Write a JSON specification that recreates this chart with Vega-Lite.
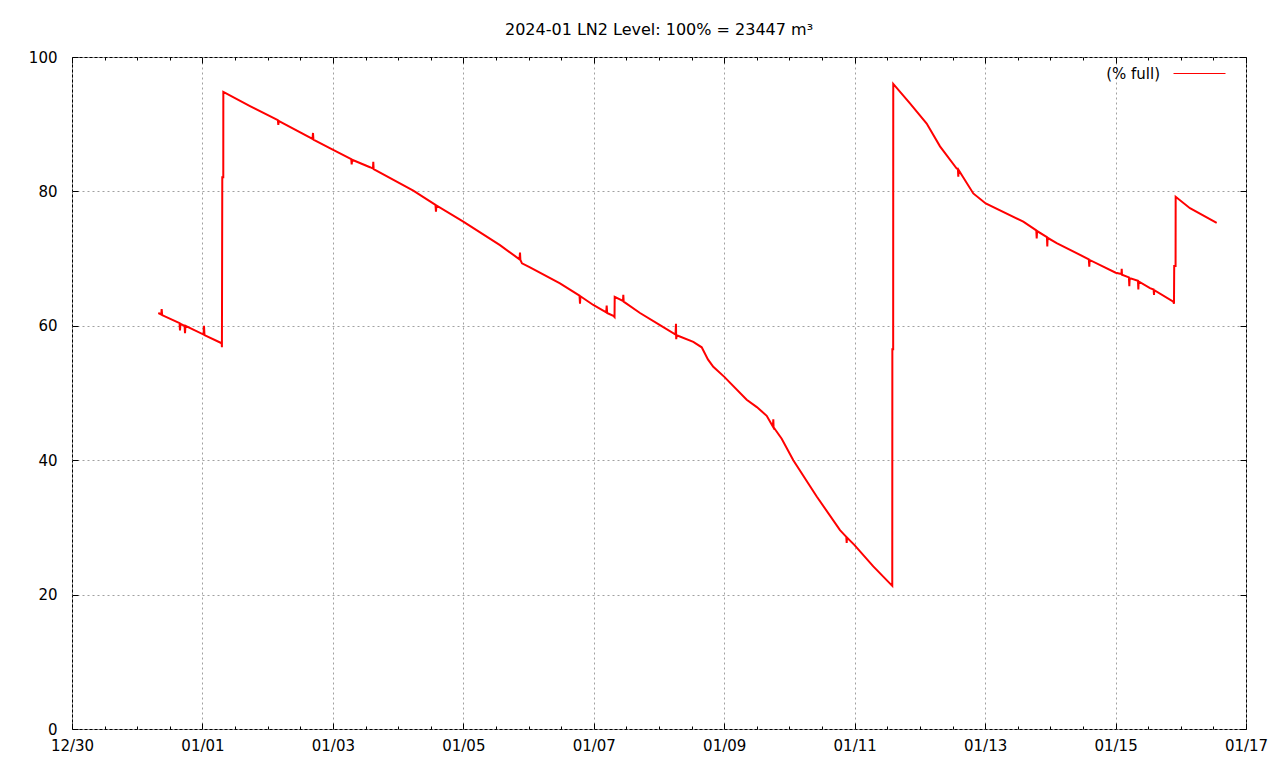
{
  "$schema": "https://vega.github.io/schema/vega-lite/v6.json",
  "width": 1174,
  "height": 672,
  "autosize": {"type": "none"},
  "padding": {"left": 72, "top": 57, "right": 34, "bottom": 39},
  "background": "white",
  "title": {"text": "2024-01 LN2 Level: 100% = 23447 m³", "font": "DejaVu Sans", "fontSize": 16, "fontWeight": "normal", "color": "black", "anchor": "middle", "baseline": "alphabetic", "offset": 3, "dy": 7},
  "config": {"view": {"stroke": "black", "strokeWidth": 1}, "font": "DejaVu Sans"},
  "data": {"values": [
    {"t": "2023-12-31T07:45:00Z", "v": 61.9},
    {"t": "2023-12-31T08:50:00Z", "v": 61.7},
    {"t": "2023-12-31T09:00:00Z", "v": 62.5},
    {"t": "2023-12-31T09:10:00Z", "v": 61.6},
    {"t": "2023-12-31T15:35:00Z", "v": 60.4},
    {"t": "2023-12-31T15:44:00Z", "v": 59.3},
    {"t": "2023-12-31T15:55:00Z", "v": 60.3},
    {"t": "2023-12-31T17:25:00Z", "v": 60.0},
    {"t": "2023-12-31T17:35:00Z", "v": 58.9},
    {"t": "2023-12-31T17:45:00Z", "v": 60.0},
    {"t": "2024-01-01T00:25:00Z", "v": 58.7},
    {"t": "2024-01-01T00:34:00Z", "v": 60.0},
    {"t": "2024-01-01T00:45:00Z", "v": 58.6},
    {"t": "2024-01-01T07:05:00Z", "v": 57.4},
    {"t": "2024-01-01T07:10:00Z", "v": 56.8},
    {"t": "2024-01-01T07:18:00Z", "v": 82.1},
    {"t": "2024-01-01T07:40:00Z", "v": 82.1},
    {"t": "2024-01-01T07:41:00Z", "v": 94.8},
    {"t": "2024-01-01T17:30:00Z", "v": 92.7},
    {"t": "2024-01-02T03:45:00Z", "v": 90.6},
    {"t": "2024-01-02T03:55:00Z", "v": 89.9},
    {"t": "2024-01-02T04:05:00Z", "v": 90.5},
    {"t": "2024-01-02T04:32:00Z", "v": 90.4},
    {"t": "2024-01-02T16:30:00Z", "v": 87.8},
    {"t": "2024-01-02T16:41:00Z", "v": 88.7},
    {"t": "2024-01-02T16:50:00Z", "v": 87.7},
    {"t": "2024-01-02T23:56:00Z", "v": 86.2},
    {"t": "2024-01-03T06:45:00Z", "v": 84.8},
    {"t": "2024-01-03T06:55:00Z", "v": 84.0},
    {"t": "2024-01-03T07:05:00Z", "v": 84.7},
    {"t": "2024-01-03T13:39:00Z", "v": 83.6},
    {"t": "2024-01-03T14:45:00Z", "v": 83.4},
    {"t": "2024-01-03T14:52:00Z", "v": 84.4},
    {"t": "2024-01-03T15:00:00Z", "v": 83.3},
    {"t": "2024-01-04T05:35:00Z", "v": 80.1},
    {"t": "2024-01-04T13:45:00Z", "v": 78.0},
    {"t": "2024-01-04T13:56:00Z", "v": 77.0},
    {"t": "2024-01-04T14:05:00Z", "v": 77.9},
    {"t": "2024-01-04T23:59:00Z", "v": 75.5},
    {"t": "2024-01-05T13:29:00Z", "v": 72.0},
    {"t": "2024-01-05T20:40:00Z", "v": 69.9},
    {"t": "2024-01-05T20:51:00Z", "v": 70.9},
    {"t": "2024-01-05T21:00:00Z", "v": 69.8},
    {"t": "2024-01-05T21:35:00Z", "v": 69.3},
    {"t": "2024-01-06T00:32:00Z", "v": 68.7},
    {"t": "2024-01-06T11:34:00Z", "v": 66.3},
    {"t": "2024-01-06T18:45:00Z", "v": 64.5},
    {"t": "2024-01-06T18:56:00Z", "v": 63.3},
    {"t": "2024-01-06T19:05:00Z", "v": 64.4},
    {"t": "2024-01-06T23:49:00Z", "v": 63.1},
    {"t": "2024-01-07T04:35:00Z", "v": 62.0},
    {"t": "2024-01-07T04:45:00Z", "v": 63.0},
    {"t": "2024-01-07T04:55:00Z", "v": 61.9},
    {"t": "2024-01-07T07:11:00Z", "v": 61.5},
    {"t": "2024-01-07T07:38:00Z", "v": 61.3},
    {"t": "2024-01-07T07:42:00Z", "v": 64.3},
    {"t": "2024-01-07T10:45:00Z", "v": 63.7},
    {"t": "2024-01-07T10:52:00Z", "v": 64.6},
    {"t": "2024-01-07T11:00:00Z", "v": 63.6},
    {"t": "2024-01-07T17:01:00Z", "v": 61.9},
    {"t": "2024-01-08T00:22:00Z", "v": 60.1},
    {"t": "2024-01-08T06:05:00Z", "v": 58.7},
    {"t": "2024-01-08T06:15:00Z", "v": 60.3},
    {"t": "2024-01-08T06:20:00Z", "v": 58.0},
    {"t": "2024-01-08T06:31:00Z", "v": 58.6},
    {"t": "2024-01-08T12:37:00Z", "v": 57.6},
    {"t": "2024-01-08T15:43:00Z", "v": 56.8},
    {"t": "2024-01-08T18:00:00Z", "v": 55.0},
    {"t": "2024-01-08T19:59:00Z", "v": 53.9},
    {"t": "2024-01-09T00:02:00Z", "v": 52.4},
    {"t": "2024-01-09T08:16:00Z", "v": 49.0},
    {"t": "2024-01-09T12:00:00Z", "v": 47.9},
    {"t": "2024-01-09T15:38:00Z", "v": 46.6},
    {"t": "2024-01-09T17:28:00Z", "v": 45.3},
    {"t": "2024-01-09T17:55:00Z", "v": 45.0},
    {"t": "2024-01-09T18:04:00Z", "v": 46.1},
    {"t": "2024-01-09T18:10:00Z", "v": 44.9},
    {"t": "2024-01-09T21:09:00Z", "v": 43.2},
    {"t": "2024-01-10T01:25:00Z", "v": 40.0},
    {"t": "2024-01-10T10:02:00Z", "v": 34.6},
    {"t": "2024-01-10T18:36:00Z", "v": 29.6},
    {"t": "2024-01-10T20:55:00Z", "v": 28.6},
    {"t": "2024-01-10T21:04:00Z", "v": 27.7},
    {"t": "2024-01-10T21:10:00Z", "v": 28.5},
    {"t": "2024-01-10T23:52:00Z", "v": 27.4},
    {"t": "2024-01-11T06:51:00Z", "v": 24.2},
    {"t": "2024-01-11T13:50:00Z", "v": 21.3},
    {"t": "2024-01-11T13:52:00Z", "v": 56.5},
    {"t": "2024-01-11T14:10:00Z", "v": 56.5},
    {"t": "2024-01-11T14:12:00Z", "v": 96.0},
    {"t": "2024-01-11T20:21:00Z", "v": 93.1},
    {"t": "2024-01-12T02:30:00Z", "v": 90.1},
    {"t": "2024-01-12T07:24:00Z", "v": 86.7},
    {"t": "2024-01-12T13:32:00Z", "v": 83.4},
    {"t": "2024-01-12T14:00:00Z", "v": 83.3},
    {"t": "2024-01-12T14:08:00Z", "v": 82.2},
    {"t": "2024-01-12T14:15:00Z", "v": 83.2},
    {"t": "2024-01-12T19:39:00Z", "v": 79.7},
    {"t": "2024-01-13T00:13:00Z", "v": 78.2},
    {"t": "2024-01-13T14:03:00Z", "v": 75.5},
    {"t": "2024-01-13T18:50:00Z", "v": 74.2},
    {"t": "2024-01-13T18:59:00Z", "v": 73.0},
    {"t": "2024-01-13T19:08:00Z", "v": 74.1},
    {"t": "2024-01-13T22:45:00Z", "v": 73.2},
    {"t": "2024-01-13T22:53:00Z", "v": 71.8},
    {"t": "2024-01-13T23:00:00Z", "v": 73.1},
    {"t": "2024-01-14T02:20:00Z", "v": 72.3},
    {"t": "2024-01-14T14:10:00Z", "v": 69.9},
    {"t": "2024-01-14T14:20:00Z", "v": 68.8},
    {"t": "2024-01-14T14:28:00Z", "v": 69.8},
    {"t": "2024-01-15T00:03:00Z", "v": 67.9},
    {"t": "2024-01-15T02:10:00Z", "v": 67.7},
    {"t": "2024-01-15T02:16:00Z", "v": 68.5},
    {"t": "2024-01-15T02:22:00Z", "v": 67.6},
    {"t": "2024-01-15T04:55:00Z", "v": 67.2},
    {"t": "2024-01-15T05:04:00Z", "v": 65.9},
    {"t": "2024-01-15T05:12:00Z", "v": 67.1},
    {"t": "2024-01-15T08:15:00Z", "v": 66.7},
    {"t": "2024-01-15T08:23:00Z", "v": 65.4},
    {"t": "2024-01-15T08:30:00Z", "v": 66.6},
    {"t": "2024-01-15T12:40:00Z", "v": 65.6},
    {"t": "2024-01-15T14:00:00Z", "v": 65.4},
    {"t": "2024-01-15T14:09:00Z", "v": 64.6},
    {"t": "2024-01-15T14:15:00Z", "v": 65.3},
    {"t": "2024-01-15T21:15:00Z", "v": 63.6},
    {"t": "2024-01-15T21:30:00Z", "v": 63.3},
    {"t": "2024-01-15T21:35:00Z", "v": 68.9},
    {"t": "2024-01-15T22:05:00Z", "v": 68.9},
    {"t": "2024-01-15T22:07:00Z", "v": 79.2},
    {"t": "2024-01-16T03:23:00Z", "v": 77.5},
    {"t": "2024-01-16T13:13:00Z", "v": 75.3}
  ]},
  "layer": [
    {
      "mark": {"type": "line", "strokeWidth": 2, "interpolate": "linear"},
      "encoding": {
        "x": {
          "field": "t", "type": "temporal",
          "scale": {"type": "utc", "domain": [1703894400000, 1705449600000]},
          "axis": {
            "orient": "bottom", "title": null, "domain": false,
            "values": [1703894400000, 1704067200000, 1704240000000, 1704412800000, 1704585600000, 1704758400000, 1704931200000, 1705104000000, 1705276800000, 1705449600000],
            "labelExpr": "utcFormat(datum.value, '%m/%d')",
            "labelOverlap": false, "labelFlush": false, "labelBound": false,
            "labelFont": "DejaVu Sans", "labelFontSize": 15, "labelColor": "black", "labelPadding": 15,
            "grid": true, "gridColor": "#a0a0a0", "gridDash": [2, 3], "gridWidth": 1,
            "tickColor": "black", "tickWidth": 1, "tickSize": -6
          }
        },
        "y": {
          "field": "v", "type": "quantitative",
          "scale": {"domain": [0, 100], "nice": false},
          "axis": {
            "orient": "left", "title": null, "domain": false,
            "values": [0, 20, 40, 60, 80, 100],
            "labelFont": "DejaVu Sans", "labelFontSize": 15, "labelColor": "black", "labelPadding": 21,
            "grid": true, "gridColor": "#a0a0a0", "gridDash": [2, 3], "gridWidth": 1,
            "tickColor": "black", "tickSize": -6
          }
        },
        "color": {
          "datum": "(% full)", "type": "nominal",
          "scale": {"range": ["#ff0000"]},
          "legend": {
            "title": null, "orient": "none", "legendX": 1101, "legendY": -10, "padding": 0,
            "symbolType": "stroke", "symbolSize": 2704, "symbolStrokeWidth": 1,
            "labelAlign": "right", "labelOffset": -66,
            "labelFont": "DejaVu Sans", "labelFontSize": 15, "labelColor": "black"
          }
        }
      }
    },
    {
      "mark": {"type": "line", "opacity": 0},
      "encoding": {
        "x": {
          "field": "t", "type": "temporal",
          "axis": {
            "orient": "top", "title": null, "domain": false, "labels": false, "grid": false,
            "values": [1703894400000, 1704067200000, 1704240000000, 1704412800000, 1704585600000, 1704758400000, 1704931200000, 1705104000000, 1705276800000, 1705449600000],
            "tickColor": "black", "tickSize": -6
          }
        },
        "y": {
          "field": "v", "type": "quantitative",
          "axis": {
            "orient": "right", "title": null, "domain": false, "labels": false, "grid": false,
            "values": [0, 20, 40, 60, 80, 100],
            "tickColor": "black", "tickSize": -6
          }
        }
      }
    },
    {
      "mark": {"type": "line", "opacity": 0},
      "encoding": {
        "x": {
          "field": "t", "type": "temporal",
          "axis": {
            "orient": "bottom", "title": null, "domain": false, "labels": false, "grid": false,
            "values": [1703937600000, 1703980800000, 1704024000000, 1704110400000, 1704153600000, 1704196800000, 1704283200000, 1704326400000, 1704369600000, 1704456000000, 1704499200000, 1704542400000, 1704628800000, 1704672000000, 1704715200000, 1704801600000, 1704844800000, 1704888000000, 1704974400000, 1705017600000, 1705060800000, 1705147200000, 1705190400000, 1705233600000, 1705320000000, 1705363200000, 1705406400000],
            "tickColor": "black", "tickSize": -3
          }
        },
        "y": {"field": "v", "type": "quantitative", "axis": null}
      }
    },
    {
      "mark": {"type": "line", "opacity": 0},
      "encoding": {
        "x": {
          "field": "t", "type": "temporal",
          "axis": {
            "orient": "top", "title": null, "domain": false, "labels": false, "grid": false,
            "values": [1703937600000, 1703980800000, 1704024000000, 1704110400000, 1704153600000, 1704196800000, 1704283200000, 1704326400000, 1704369600000, 1704456000000, 1704499200000, 1704542400000, 1704628800000, 1704672000000, 1704715200000, 1704801600000, 1704844800000, 1704888000000, 1704974400000, 1705017600000, 1705060800000, 1705147200000, 1705190400000, 1705233600000, 1705320000000, 1705363200000, 1705406400000],
            "tickColor": "black", "tickSize": -3
          }
        },
        "y": {"field": "v", "type": "quantitative", "axis": null}
      }
    }
  ],
  "resolve": {"axis": {"x": "independent", "y": "independent"}}
}
